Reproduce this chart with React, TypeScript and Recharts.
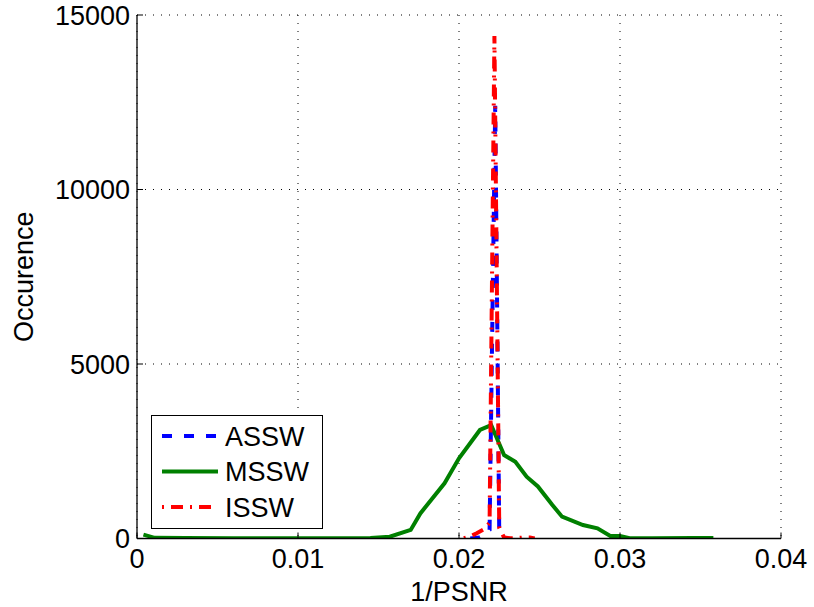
import { LineChart, Line, XAxis, YAxis, CartesianGrid, Legend } from "recharts";

// axis ticks
const xTicks = [0, 0.01, 0.02, 0.03, 0.04];
const yTicks = [0, 5000, 10000, 15000];

// ASSW histogram
const asswX = [0.0207, 0.0213, 0.0219, 0.02225, 0.0225, 0.0229];
const asswY = [0, 30, 250, 12400, 120, 0];

// MSSW histogram
const msswX = [
  0.0004, 0.0011, 0.003, 0.006, 0.009, 0.012, 0.0145, 0.0157, 0.017, 0.0176, 0.0191, 0.02, 0.0213, 0.022,
  0.0228, 0.0235, 0.0242, 0.0249, 0.0258, 0.0264, 0.0277, 0.0286, 0.0294, 0.03, 0.0306, 0.032, 0.0345, 0.0358,
];
const msswY = [
  110, 20, 15, 10, 10, 10, 15, 50, 245, 720, 1580, 2300, 3110, 3250,
  2390, 2200, 1770, 1490, 960, 625, 385, 290, 70, 70, 10, 10, 15, 15,
];

// ISSW histogram
const isswX = [0.0203, 0.0207, 0.0211, 0.0215, 0.0219, 0.0222, 0.0225, 0.0228, 0.0232, 0.0236, 0.024, 0.0244, 0.0247];
const isswY = [10, 60, 150, 250, 450, 14400, 300, 30, 5, 10, 30, 30, 0];

const font = '"Liberation Sans", Arial, Helvetica, sans-serif';

const toPoints = (xs: number[], ys: number[]) => xs.map((x, i) => ({ x, y: ys[i] }));

const series = [
  { name: "ASSW", color: "#0000ff", dash: "10 12", data: toPoints(asswX, asswY) },
  { name: "MSSW", color: "#008000", dash: undefined, data: toPoints(msswX, msswY) },
  { name: "ISSW", color: "#ff0000", dash: "2 7 12 7", data: toPoints(isswX, isswY) },
];

function LegendBox() {
  return (
    <svg width={172} height={114} style={{ display: "block" }}>
      <rect x={0.5} y={0.5} width={171} height={113} fill="#fff" stroke="#000" />
      {series.map((s, i) => {
        const cy = 21 + i * 35.5;
        return (
          <g key={s.name}>
            <line x1={11} x2={67} y1={cy} y2={cy} stroke={s.color} strokeWidth={4} strokeDasharray={s.dash} />
            <text x={74} y={cy} dy="0.355em" fontSize={27} fill="#000" fontFamily={font}>
              {s.name}
            </text>
          </g>
        );
      })}
    </svg>
  );
}

// tick label plus a short inward tick mark (MATLAB style)
function XTick(props: any) {
  const { x, y, payload } = props;
  return (
    <g>
      <line x1={x} x2={x} y1={y - 10} y2={y - 16} stroke="#000" />
      <text x={x} y={y} dy="0.71em" textAnchor="middle" fontSize={27} fill="#000" fontFamily={font}>
        {String(payload.value)}
      </text>
    </g>
  );
}

function YTick(props: any) {
  const { x, y, payload } = props;
  return (
    <g>
      <line x1={x + 7} x2={x + 13} y1={y} y2={y} stroke="#000" />
      <text x={x} y={y} dy="0.355em" textAnchor="end" fontSize={27} fill="#000" fontFamily={font}>
        {String(payload.value)}
      </text>
    </g>
  );
}

const frame = { stroke: "#000", strokeWidth: 1.3 };

export default function App() {
  return (
    <div style={{ position: "absolute", left: 0, top: 0, fontFamily: font }}>
      <LineChart width={814} height={607} margin={{ top: 15, right: 33, bottom: 0, left: 0 }}>
        <CartesianGrid stroke="#000" strokeDasharray="1 7" strokeWidth={1} />
        <XAxis
          dataKey="x"
          type="number"
          domain={[0, 0.04]}
          ticks={xTicks}
          allowDataOverflow
          height={68.5}
          tickLine={false}
          tickSize={0}
          tickMargin={10}
          tick={<XTick />}
          axisLine={frame}
          label={{ value: "1/PSNR", position: "insideBottom", offset: 6, fill: "#000", fontSize: 27, fontFamily: font }}
        />
        <XAxis
          xAxisId="top"
          orientation="top"
          type="number"
          domain={[0, 0.04]}
          ticks={xTicks}
          mirror
          height={0}
          tick={false}
          tickSize={6}
          tickLine={{ stroke: "#000" }}
          axisLine={frame}
        />
        <YAxis
          type="number"
          domain={[0, 15000]}
          ticks={yTicks}
          allowDataOverflow
          width={137}
          tickLine={false}
          tickSize={0}
          tickMargin={7}
          tick={<YTick />}
          axisLine={frame}
          label={{
            value: "Occurence",
            angle: -90,
            position: "insideLeft",
            offset: 23,
            fill: "#000",
            fontSize: 27,
            fontFamily: font,
            style: { textAnchor: "middle" },
          }}
        />
        <YAxis
          yAxisId="right"
          orientation="right"
          type="number"
          domain={[0, 15000]}
          ticks={yTicks}
          mirror
          width={0}
          tick={false}
          tickSize={6}
          tickLine={{ stroke: "#000" }}
          axisLine={frame}
        />
        {series.map((s) => (
          <Line
            key={s.name}
            data={s.data}
            dataKey="y"
            name={s.name}
            type="linear"
            stroke={s.color}
            strokeWidth={4}
            strokeDasharray={s.dash}
            dot={false}
            activeDot={false}
            isAnimationActive={false}
          />
        ))}
        <Legend
          layout="vertical"
          align="center"
          verticalAlign="middle"
          content={<LegendBox />}
          wrapperStyle={{ position: "absolute", left: 151, top: 415, width: 172, height: 114 }}
        />
      </LineChart>
    </div>
  );
}
